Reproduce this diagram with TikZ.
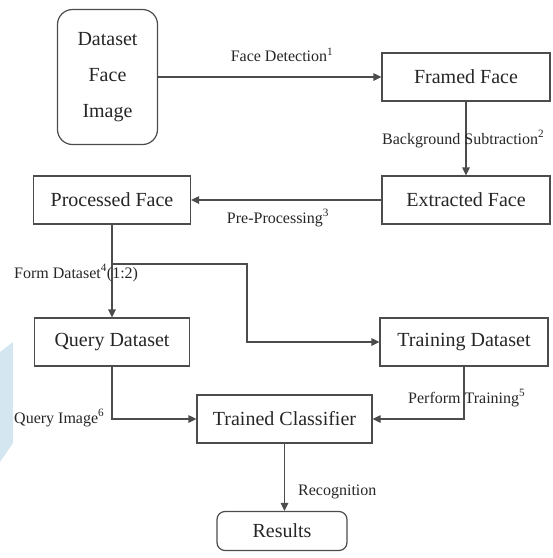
\documentclass[tikz,border=0pt]{standalone}
\usepackage{fontspec}
\setmainfont{Liberation Serif}
\usepackage{tikz}
\usetikzlibrary{arrows.meta}

\definecolor{wmblue}{RGB}{212,230,240}

\begin{document}
\begin{tikzpicture}[x=1pt,y=-1pt,
		box/.style={draw=black!70,line width=1.2pt,minimum height=48pt,inner sep=0pt,
			text=black!85,font=\fontsize{20}{24}\selectfont},
		rbox/.style={box,rounded corners=15pt},
		arr/.style={draw=black!70,line width=1.2pt,-{Triangle[length=8pt,width=7.5pt]}},
		lab/.style={inner sep=0pt,text=black!85,font=\fontsize{16}{18}\selectfont}]
		\useasboundingbox (0,0) rectangle (553,558);
		% watermark on the left edge
		\fill[wmblue] (0,352) -- (13,342) -- (13,443) -- (0,462) -- cycle;
		% boxes
		\node[rbox,minimum width=100pt,minimum height=135pt,align=center,
			font=\fontsize{20}{36}\selectfont] (dfi) at (107.5,77) {Dataset\\Face\\Image};
		\node[box,minimum width=168pt] (framed) at (466,77) {Framed Face};
		\node[box,minimum width=168pt] (extracted) at (466,200) {Extracted Face};
		\node[box,minimum width=157pt] (processed) at (112,200) {Processed Face};
		\node[box,minimum width=155pt] (query) at (112,342) {Query Dataset};
		\node[box,minimum width=168pt] (training) at (464,342) {Training Dataset};
		\node[box,minimum width=175pt] (classifier) at (284.5,419) {Trained Classifier};
		\node[rbox,minimum width=130pt,minimum height=39pt,rounded corners=8pt] (results) at (282,531) {Results};
		\coordinate (split) at (processed.south |- 0,264);
		\coordinate (bend) at (247,264);
		% connectors
		\draw[arr] (dfi.east |- framed.west) -- (framed.west);
		\draw[arr] (framed) -- (extracted);
		\draw[arr] (extracted) -- (processed);
		\draw[arr] (processed) -- (query);
		\draw[arr] (split) -- (bend) |- (training.west);
		\draw[arr] (query.south) |- (classifier.west);
		\draw[arr] (training.south) |- (classifier.east);
		\draw[arr] (classifier.south) -- (classifier.south |- results.north);
		% labels
		\node[lab] (lfd) at (282,55) {Face Detection\textsuperscript{1}};
		\node[lab,anchor=west] (lbs) at (382,139) {Background Subtraction\textsuperscript{2}};
		\node[lab] (lpp) at (278,218) {Pre-Processing\textsuperscript{3}};
		\node[lab,anchor=west] (lfds) at (14,273) {Form Dataset\textsuperscript{4}(1:2)};
		\node[lab,anchor=west] (lqi) at (14,418) {Query Image\textsuperscript{6}};
		\node[lab,anchor=west] (lpt) at (408,398) {Perform Training\textsuperscript{5}};
		\node[lab,anchor=west] (lrec) at (298,492) {Recognition};
\end{tikzpicture}
\end{document}
